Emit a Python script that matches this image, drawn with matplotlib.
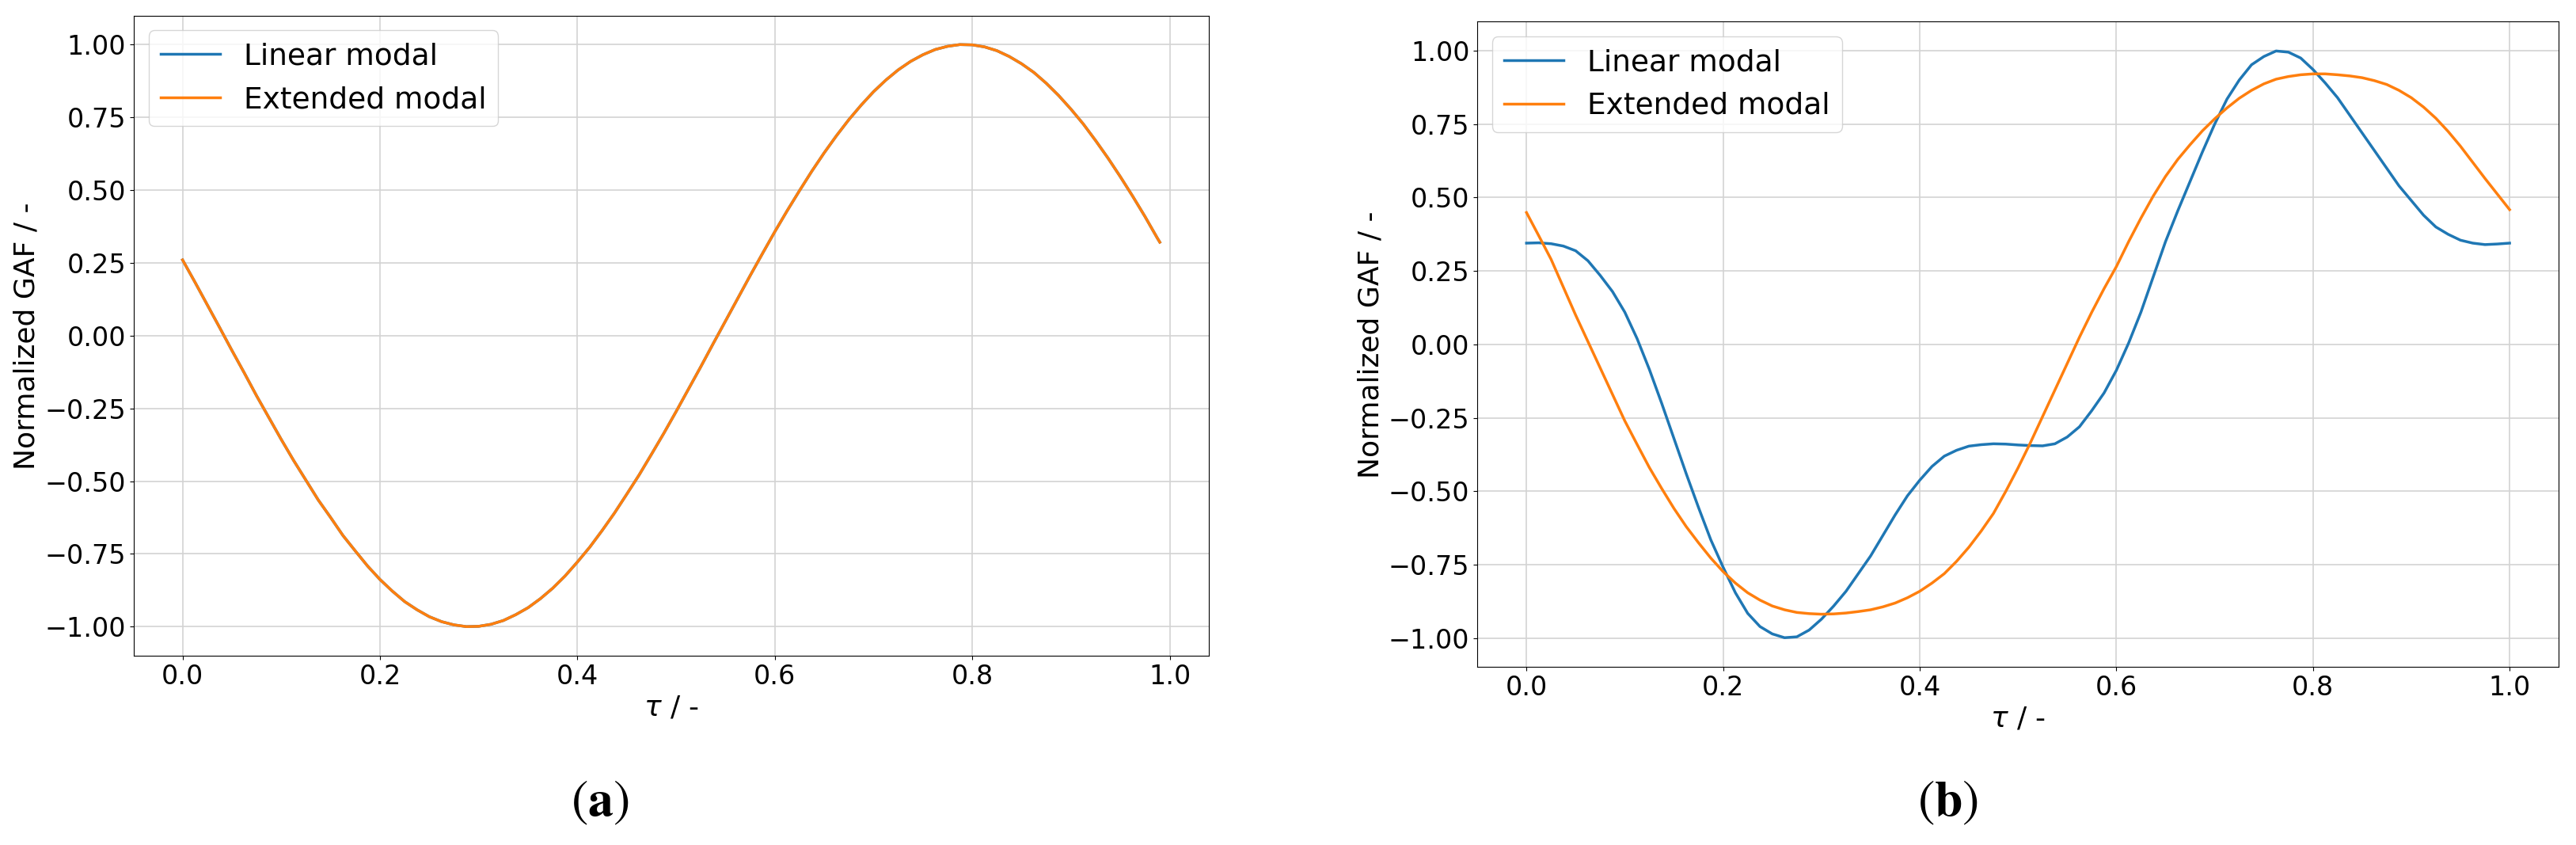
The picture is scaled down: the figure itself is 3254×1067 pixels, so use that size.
import numpy as np
import matplotlib
matplotlib.use("Agg")
import matplotlib.pyplot as plt

# ---------------------------------------- data
# (a) both models give the same curve, tau from 0 to 0.99
tau_a = [0.0, 0.0125, 0.025, 0.0375, 0.05, 0.0625, 0.075, 0.0875, 0.1, 0.1125,
         0.125, 0.1375, 0.15, 0.1625, 0.175, 0.1875, 0.2, 0.2125, 0.225, 0.2375,
         0.25, 0.2625, 0.275, 0.2875, 0.3, 0.3125, 0.325, 0.3375, 0.35, 0.3625,
         0.375, 0.3875, 0.4, 0.4125, 0.425, 0.4375, 0.45, 0.4625, 0.475, 0.4875,
         0.5, 0.5125, 0.525, 0.5375, 0.55, 0.5625, 0.575, 0.5875, 0.6, 0.6125,
         0.625, 0.6375, 0.65, 0.6625, 0.675, 0.6875, 0.7, 0.7125, 0.725, 0.7375,
         0.75, 0.7625, 0.775, 0.7875, 0.8, 0.8125, 0.825, 0.8375, 0.85, 0.8625,
         0.875, 0.8875, 0.9, 0.9125, 0.925, 0.9375, 0.95, 0.9625, 0.975, 0.9875, 0.99]
linear_a = [0.26, 0.184, 0.106, 0.028, -0.051, -0.128, -0.207, -0.282, -0.357, -0.429,
            -0.497, -0.565, -0.625, -0.687, -0.74, -0.792, -0.838, -0.878, -0.914, -0.942,
            -0.966, -0.983, -0.994, -1.0, -0.999, -0.992, -0.979, -0.959, -0.935, -0.904,
            -0.868, -0.826, -0.778, -0.727, -0.67, -0.61, -0.545, -0.479, -0.408, -0.336,
            -0.261, -0.184, -0.107, -0.028, 0.05, 0.128, 0.206, 0.282, 0.357, 0.429,
            0.498, 0.565, 0.628, 0.687, 0.742, 0.792, 0.838, 0.878, 0.913, 0.942,
            0.965, 0.983, 0.994, 1.0, 0.999, 0.992, 0.979, 0.959, 0.934, 0.904,
            0.867, 0.825, 0.778, 0.727, 0.67, 0.61, 0.546, 0.479, 0.409, 0.335, 0.321]
extended_a = list(linear_a)

# (b) tau from 0 to 1
tau_b = [0.0, 0.0125, 0.025, 0.0375, 0.05, 0.0625, 0.075, 0.0875, 0.1, 0.1125,
         0.125, 0.1375, 0.15, 0.1625, 0.175, 0.1875, 0.2, 0.2125, 0.225, 0.2375,
         0.25, 0.2625, 0.275, 0.2875, 0.3, 0.3125, 0.325, 0.3375, 0.35, 0.3625,
         0.375, 0.3875, 0.4, 0.4125, 0.425, 0.4375, 0.45, 0.4625, 0.475, 0.4875,
         0.5, 0.5125, 0.525, 0.5375, 0.55, 0.5625, 0.575, 0.5875, 0.6, 0.6125,
         0.625, 0.6375, 0.65, 0.6625, 0.675, 0.6875, 0.7, 0.7125, 0.725, 0.7375,
         0.75, 0.7625, 0.775, 0.7875, 0.8, 0.8125, 0.825, 0.8375, 0.85, 0.8625,
         0.875, 0.8875, 0.9, 0.9125, 0.925, 0.9375, 0.95, 0.9625, 0.975, 0.9875, 1.0]
linear_b = [0.345, 0.346, 0.343, 0.335, 0.319, 0.285, 0.235, 0.18, 0.11, 0.02,
            -0.085, -0.2, -0.32, -0.44, -0.555, -0.665, -0.758, -0.845, -0.915, -0.96,
            -0.985, -0.998, -0.995, -0.972, -0.935, -0.89, -0.84, -0.78, -0.72, -0.65,
            -0.58, -0.515, -0.462, -0.415, -0.38, -0.36, -0.346, -0.341, -0.338, -0.339,
            -0.342, -0.344, -0.345, -0.338, -0.315, -0.28, -0.225, -0.165, -0.088, 0.005,
            0.11, 0.23, 0.35, 0.455, 0.555, 0.655, 0.75, 0.835, 0.9, 0.952,
            0.98, 0.999, 0.995, 0.975, 0.936, 0.89, 0.84, 0.78, 0.72, 0.66,
            0.6, 0.54, 0.49, 0.44, 0.4, 0.375, 0.355, 0.345, 0.34, 0.342, 0.345]
extended_b = [0.449, 0.37, 0.29, 0.195, 0.1, 0.01, -0.08, -0.17, -0.26, -0.34,
              -0.419, -0.49, -0.558, -0.62, -0.675, -0.727, -0.773, -0.812, -0.845, -0.87,
              -0.89, -0.903, -0.912, -0.916, -0.918, -0.917, -0.914, -0.909, -0.903, -0.893,
              -0.88, -0.862, -0.84, -0.812, -0.78, -0.738, -0.69, -0.635, -0.575, -0.5,
              -0.42, -0.335, -0.245, -0.155, -0.065, 0.025, 0.11, 0.19, 0.265, 0.35,
              0.43, 0.505, 0.572, 0.63, 0.68, 0.727, 0.768, 0.805, 0.838, 0.865,
              0.887, 0.903, 0.912, 0.918, 0.921, 0.921, 0.918, 0.914, 0.908, 0.898,
              0.885, 0.865, 0.84, 0.808, 0.77, 0.725, 0.675, 0.62, 0.565, 0.512, 0.459]

labels = ["Linear modal", "Extended modal"]
panels = ["a", "b"]
# ----------------------------------------

fig = plt.figure(figsize=(32.54, 10.67), dpi=100)
ax1 = fig.add_axes([0.0519, 0.2240, 0.4173, 0.7577])
ax2 = fig.add_axes([0.5735, 0.2106, 0.4198, 0.7638])

for ax, t, y1, y2 in [(ax1, tau_a, linear_a, extended_a),
                      (ax2, tau_b, linear_b, extended_b)]:
    ax.plot(t, y1, color="#1f77b4", lw=2.5, label=labels[0])
    ax.plot(t, y2, color="#ff7f0e", lw=2.5, label=labels[1])
    ax.grid(True, color="#d3d3d3", lw=1.2)
    ax.set_axisbelow(True)
    ax.set_xticks([0.0, 0.2, 0.4, 0.6, 0.8, 1.0])
    ax.set_yticks([-1.0, -0.75, -0.5, -0.25, 0.0, 0.25, 0.5, 0.75, 1.0])
    ax.tick_params(labelsize=24)
    ax.set_xlabel(r"$\tau$ / -", fontsize=26)
    ax.set_ylabel("Normalized GAF / -", fontsize=26)
    ax.legend(loc="upper left", fontsize=27)

# panel captions below each plot
for x, p in zip([0.233, 0.7563], panels):
    fig.text(x, 0.0506, r"$(\mathbf{" + p + r"})$", ha="center", va="center",
             fontsize=46, math_fontfamily="stix")

fig.savefig("out.png", dpi=100)
